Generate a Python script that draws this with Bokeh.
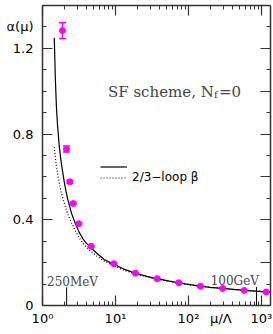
from bokeh.plotting import figure
from bokeh.models import (LogAxis, LinearAxis, FixedTicker, Label,
                          Whisker, TeeHead, ColumnDataSource, Legend, LegendItem)
from bokeh.embed import file_html
from bokeh.resources import INLINE

# ---- lattice data (SF scheme, Nf=0) ----
mu_lat = [1.88, 2.13, 2.37, 2.63, 3.14, 4.65, 9.48, 18.8, 37.3, 73.7, 146, 295, 580, 1160]
alpha_lat = [1.283, 0.730, 0.577, 0.476, 0.382, 0.276, 0.195, 0.151, 0.125, 0.106,
             0.090, 0.0795, 0.0705, 0.063]
alpha_err = [0.037, 0.014, 0.006, 0.004, 0.003, 0.002, 0.001, 0.001, 0.001, 0.001,
             0.001, 0.001, 0.001, 0.001]

# ---- perturbative curves ----
mu_curve = [1.45, 1.5, 1.55, 1.6, 1.7, 1.8, 2.0, 2.2, 2.5, 2.8, 3.2, 3.6, 4.0, 4.6,
            5.5, 7, 9.5, 13, 19, 27, 37, 55, 74, 100, 146, 200, 295, 420, 585, 850,
            1170, 1330]
alpha_3loop = [1.25, 1.06, 0.93, 0.85, 0.74, 0.67, 0.57, 0.50, 0.43, 0.385, 0.34,
               0.31, 0.29, 0.27, 0.245, 0.215, 0.192, 0.170, 0.150, 0.136, 0.125,
               0.114, 0.106, 0.099, 0.090, 0.085, 0.0795, 0.075, 0.071, 0.067,
               0.064, 0.063]
alpha_2loop = [0.74, 0.69, 0.65, 0.62, 0.57, 0.53, 0.475, 0.43, 0.385, 0.35, 0.315,
               0.29, 0.272, 0.253, 0.232, 0.207, 0.185, 0.165, 0.146, 0.133, 0.122,
               0.112, 0.104, 0.097, 0.089, 0.084, 0.0785, 0.074, 0.0705, 0.0665,
               0.0635, 0.0625]

# ---- reference scales ----
scale_mu = [2.14, 855]
scale_base = [0, 0]
scale_top = [0.085, 0.086]
scale_names = ["250MeV", "100GeV"]

# ---- tick values / labels ----
x_major = [1, 10, 100, 1000]
x_minor = [2, 3, 4, 5, 6, 7, 8, 9, 20, 30, 40, 50, 60, 70, 80, 90,
           200, 300, 400, 500, 600, 700, 800, 900]
x_label_pos = [1, 10, 100, 278, 1000]
x_label_txt = ["10\u2070", "10\u00b9", "10\u00b2", "\u03bc/\u039b", "10\u00b3"]
y_major_left = [0, 0.4, 0.8, 1.2, 1.4]
y_label_txt = ["0", "0.4", "0.8", "1.2", "\n\u03b1(\u03bc)"]
y_minor_left = [0.1, 0.2, 0.3, 0.5, 0.6, 0.7, 0.9, 1.0, 1.1, 1.3]
y_major_right = [0, 0.2, 0.4, 0.6, 0.8, 1.0, 1.2]
y_minor_right = [0.1, 0.3, 0.5, 0.7, 0.9, 1.1, 1.3]

MAGENTA = "#ff00ff"
AX = "#333333"

p = figure(x_axis_type="log", x_range=(1, 1330), y_range=(0, 1.4),
           width=273, height=334,
           min_border_left=42, min_border_right=3, min_border_top=5,
           min_border_bottom=29,
           output_backend="svg", toolbar_location=None)
p.xgrid.visible = False
p.ygrid.visible = False
p.outline_line_color = None
p.background_fill_color = "white"


def style_axis(ax, labels=True):
    ax.axis_line_width = 1.5
    ax.axis_line_color = AX
    ax.major_tick_in = 10
    ax.major_tick_out = 0
    ax.minor_tick_in = 4
    ax.minor_tick_out = 0
    ax.major_tick_line_color = AX
    ax.minor_tick_line_color = AX
    ax.major_tick_line_width = 1.2
    ax.minor_tick_line_width = 1
    if labels:
        ax.major_label_text_font = "DejaVu Sans"
        ax.major_label_text_font_size = "13px"
        ax.major_label_text_color = "black"
    else:
        ax.major_label_text_font_size = "1px"
        ax.major_label_standoff = 0


# bottom: ticks on the frame axis, labels on a second (tickless) axis below it
xa = p.xaxis[0]
xa.ticker = FixedTicker(ticks=x_major, minor_ticks=x_minor)
style_axis(xa, labels=False)
xa.major_label_overrides = {t: "" for t in x_major}

xl = LogAxis(ticker=FixedTicker(ticks=x_label_pos, minor_ticks=[]))
xl.axis_line_color = None
xl.major_tick_in = 0
xl.major_tick_out = 0
xl.minor_tick_in = 0
xl.minor_tick_out = 0
xl.major_label_standoff = 5
xl.major_label_text_font = "DejaVu Sans"
xl.major_label_text_font_size = "13px"
xl.major_label_text_color = "black"
xl.major_label_overrides = dict(zip(x_label_pos, x_label_txt))
p.add_layout(xl, "below")

ya = p.yaxis[0]
ya.ticker = FixedTicker(ticks=y_major_left, minor_ticks=y_minor_left)
style_axis(ya)
ya.major_label_standoff = 9
ya.major_label_overrides = dict(zip(y_major_left, y_label_txt))

top = LogAxis(ticker=FixedTicker(ticks=x_major, minor_ticks=x_minor))
style_axis(top, labels=False)
top.major_label_overrides = {t: "" for t in x_major}
p.add_layout(top, "above")

right = LinearAxis(ticker=FixedTicker(ticks=y_major_right, minor_ticks=y_minor_right))
style_axis(right, labels=False)
right.major_label_overrides = {t: "" for t in y_major_right}
p.add_layout(right, "right")

# curves
r3 = p.line(mu_curve, alpha_3loop, line_color="black", line_width=1.2)
r2 = p.line(mu_curve, alpha_2loop, line_color="black", line_width=1.2,
            line_dash="1 2")

# scale markers
p.segment(x0=scale_mu, y0=scale_base, x1=scale_mu, y1=scale_top,
          line_color="black", line_width=1)

# lattice points with error bars
src = ColumnDataSource(dict(
    x=mu_lat, y=alpha_lat,
    lo=[a - e for a, e in zip(alpha_lat, alpha_err)],
    hi=[a + e for a, e in zip(alpha_lat, alpha_err)]))
w = Whisker(base="x", lower="lo", upper="hi", source=src, dimension="height",
            line_color=MAGENTA, line_width=1.5,
            upper_head=TeeHead(size=7, line_color=MAGENTA, line_width=1.5),
            lower_head=TeeHead(size=7, line_color=MAGENTA, line_width=1.5))
p.add_layout(w)
p.scatter("x", "y", source=src, size=6, color=MAGENTA)

# legend (two single-item legends to control the row spacing)
leg_kw = dict(orientation="vertical", glyph_width=27, glyph_height=11,
              label_height=11, spacing=0, padding=0, margin=0, label_standoff=5,
              border_line_color=None, background_fill_alpha=0,
              label_text_font="DejaVu Sans", label_text_font_size="12px",
              label_text_color="black")
leg_a = Legend(items=[LegendItem(label="\u00a0", renderers=[r3])],
               location=(58, 132), **leg_kw)
leg_b = Legend(items=[LegendItem(label="2/3\u2212loop \u03b2", renderers=[r2])],
               location=(58, 121), **leg_kw)
p.add_layout(leg_a)
p.add_layout(leg_b)

p.add_layout(Label(x=1.153, y=0.109, text=scale_names[0], text_font="DejaVu Serif",
                   text_font_size="12px", text_align="left",
                   text_baseline="alphabetic"))
p.add_layout(Label(x=924, y=0.115, text=scale_names[1], text_font="DejaVu Serif",
                   text_font_size="12px", text_align="right",
                   text_baseline="alphabetic"))

sf_x, sf_y = 7.89, 0.998
p.add_layout(Label(x=sf_x, y=sf_y, text="SF scheme, N", text_font="DejaVu Serif",
                   text_font_size="15px", text_baseline="alphabetic"))
p.add_layout(Label(x=sf_x, y=sf_y, x_offset=106, y_offset=-3, text="f",
                   text_font="DejaVu Serif", text_font_size="10px",
                   text_baseline="alphabetic"))
p.add_layout(Label(x=sf_x, y=sf_y, x_offset=111, text="=0", text_font="DejaVu Serif",
                   text_font_size="15px", text_baseline="alphabetic"))

open("out.html", "w").write(file_html(p, INLINE))
